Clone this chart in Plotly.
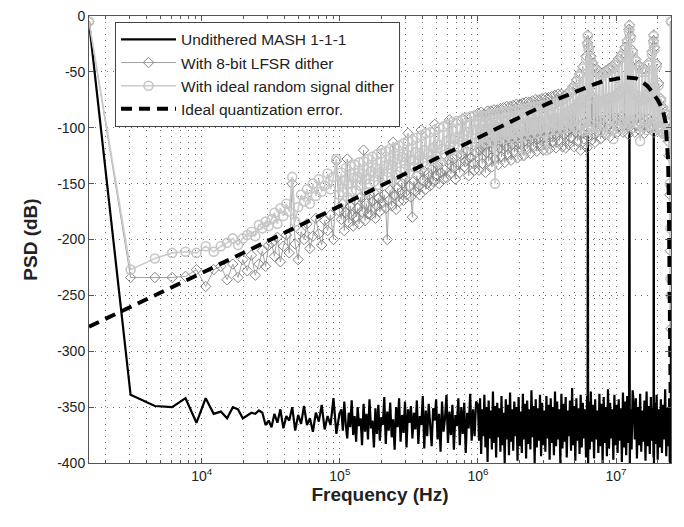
import plotly.graph_objects as go

# ---------------- data ----------------
# frequencies (Hz), in four segments
FREQ_LOW = [1526, 3052, 4578, 6104, 7629, 9155, 10681, 12207, 13733, 15259,
            16785, 18311, 19836, 21362, 22888, 24414, 25940, 27466, 28992, 30518]
FREQ_MID1 = [32000, 33600, 35300, 37100, 39000, 41000, 43000, 45200, 47500, 49900,
             52400, 55000, 57800, 60700, 63800, 67000, 70400, 73900, 77600, 81500,
             85600, 89900, 94400, 99200]
FREQ_MID2 = [
    1.025e5, 1.051e5, 1.077e5, 1.104e5, 1.131e5, 1.160e5, 1.189e5, 1.218e5, 1.249e5, 1.280e5,
    1.312e5, 1.345e5, 1.379e5, 1.413e5, 1.448e5, 1.485e5, 1.522e5, 1.560e5, 1.599e5, 1.639e5,
    1.680e5, 1.722e5, 1.765e5, 1.809e5, 1.854e5, 1.900e5, 1.948e5, 1.997e5, 2.046e5, 2.098e5,
    2.150e5, 2.204e5, 2.259e5, 2.315e5, 2.373e5, 2.433e5, 2.493e5, 2.556e5, 2.620e5, 2.685e5,
    2.752e5, 2.821e5, 2.892e5, 2.964e5, 3.038e5, 3.114e5, 3.192e5, 3.271e5, 3.353e5, 3.437e5,
    3.523e5, 3.611e5, 3.701e5, 3.794e5, 3.889e5, 3.986e5, 4.085e5, 4.188e5, 4.292e5, 4.400e5,
    4.510e5, 4.622e5, 4.738e5, 4.856e5, 4.978e5, 5.102e5, 5.230e5, 5.361e5, 5.495e5, 5.632e5,
    5.773e5, 5.917e5, 6.065e5, 6.217e5, 6.372e5, 6.532e5, 6.695e5, 6.862e5, 7.034e5, 7.210e5,
    7.390e5, 7.575e5, 7.764e5, 7.958e5, 8.157e5, 8.361e5, 8.570e5, 8.785e5, 9.004e5, 9.229e5,
    9.460e5, 9.697e5,
]
FREQ_HIGH = [
    1.000e6, 1.018e6, 1.036e6, 1.055e6, 1.074e6, 1.093e6, 1.113e6, 1.133e6, 1.153e6, 1.174e6,
    1.195e6, 1.217e6, 1.239e6, 1.261e6, 1.284e6, 1.307e6, 1.330e6, 1.354e6, 1.379e6, 1.403e6,
    1.429e6, 1.454e6, 1.481e6, 1.507e6, 1.534e6, 1.562e6, 1.590e6, 1.619e6, 1.648e6, 1.677e6,
    1.708e6, 1.738e6, 1.770e6, 1.801e6, 1.834e6, 1.867e6, 1.900e6, 1.935e6, 1.970e6, 2.005e6,
    2.041e6, 2.078e6, 2.115e6, 2.153e6, 2.192e6, 2.232e6, 2.272e6, 2.313e6, 2.354e6, 2.397e6,
    2.440e6, 2.484e6, 2.528e6, 2.574e6, 2.620e6, 2.667e6, 2.715e6, 2.764e6, 2.814e6, 2.865e6,
    2.916e6, 2.969e6, 3.022e6, 3.077e6, 3.132e6, 3.188e6, 3.246e6, 3.304e6, 3.364e6, 3.424e6,
    3.486e6, 3.549e6, 3.613e6, 3.678e6, 3.744e6, 3.811e6, 3.880e6, 3.950e6, 4.021e6, 4.093e6,
    4.167e6, 4.242e6, 4.318e6, 4.396e6, 4.475e6, 4.555e6, 4.637e6, 4.721e6, 4.806e6, 4.892e6,
    4.980e6, 5.070e6, 5.161e6, 5.254e6, 5.349e6, 5.445e6, 5.543e6, 5.643e6, 5.744e6, 5.848e6,
    5.953e6, 6.060e6, 6.169e6, 6.220e6, 6.250e6, 6.280e6, 6.340e6, 6.454e6, 6.570e6, 6.689e6,
    6.809e6, 6.932e6, 7.057e6, 7.184e6, 7.313e6, 7.445e6, 7.579e6, 7.715e6, 7.854e6, 7.995e6,
    8.139e6, 8.286e6, 8.435e6, 8.587e6, 8.741e6, 8.899e6, 9.059e6, 9.222e6, 9.388e6, 9.557e6,
    9.729e6, 9.904e6, 10.08e6, 10.26e6, 10.45e6, 10.64e6, 10.83e6, 11.02e6, 11.22e6, 11.42e6,
    11.63e6, 11.84e6, 12.05e6, 12.27e6, 12.42e6, 12.50e6, 12.58e6, 12.73e6, 12.96e6, 13.19e6,
    13.43e6, 13.67e6, 13.92e6, 14.17e6, 14.42e6, 14.68e6, 14.95e6, 15.22e6, 15.49e6, 15.77e6,
    16.05e6, 16.34e6, 16.64e6, 16.94e6, 17.24e6, 17.55e6, 17.87e6, 18.19e6, 18.52e6, 18.68e6,
    18.75e6, 18.82e6, 18.98e6, 19.32e6, 19.67e6, 20.02e6, 20.38e6, 20.75e6, 21.12e6, 21.50e6,
    21.89e6, 22.28e6, 22.68e6, 23.09e6, 23.51e6, 23.93e6, 24.25e6, 24.50e6, 24.70e6, 24.85e6,
    24.95e6, 25.00e6,
]

# Undithered MASH 1-1-1 (dB)
MASH_LOW = [-5, -339, -349, -350, -342, -364, -342, -356, -354, -360,
            -350, -352, -360, -357, -355, -356, -353, -355, -366, -362]
MASH_MID1 = [-368, -356, -364, -352, -369, -358, -362, -350, -371, -357,
             -365, -349, -366, -360, -372, -355, -363, -348, -370, -358,
             -366, -342, -374, -356]
MASH_MID2 = [
    -352, -371, -345, -366, -378, -355, -368, -344, -375, -358,
    -381, -350, -367, -360, -384, -347, -372, -356, -379, -343,
    -369, -362, -386, -351, -374, -348, -380, -359, -366, -341,
    -383, -354, -371, -346, -377, -361, -388, -350, -368, -342,
    -381, -357, -373, -345, -386, -352, -364, -349, -378, -355,
    -370, -344, -383, -358, -366, -340, -387, -353, -376, -347,
    -369, -385, -351, -362, -343, -379, -356, -390, -345, -372,
    -360, -339, -382, -354, -375, -348, -388, -357, -367, -342,
    -384, -350, -374, -346, -391, -355, -369, -338, -380, -352,
    -376, -345,
]
MASH_HIGH = [
    -348, -380, -342, -392, -352, -376, -339, -386, -350, -399,
    -344, -378, -353, -388, -336, -382, -349, -395, -346, -377,
    -351, -390, -340, -384, -355, -400, -343, -379, -348, -393,
    -337, -381, -352, -389, -345, -376, -350, -398, -341, -385,
    -354, -391, -338, -379, -347, -396, -344, -383, -352, -388,
    -335, -377, -349, -400, -343, -386, -351, -380, -339, -394,
    -346, -384, -353, -390, -340, -378, -348, -397, -342, -382,
    -350, -393, -336, -385, -345, -379, -352, -400, -338, -387,
    -347, -381, -341, -395, -353, -376, -344, -389, -333, -384,
    -349, -398, -342, -380, -351, -392, -339, -386, -346, -378,
    -352, -395, -340, -383, -18, -400, -345, -388, -336, -381,
    -348, -396, -343, -379, -353, -391, -338, -385, -347, -400,
    -341, -382, -350, -394, -334, -387, -346, -378, -352, -397,
    -339, -384, -348, -391, -343, -380, -351, -399, -337, -386,
    -345, -393, -340, -382, -349, -10, -400, -352, -388, -335,
    -347, -379, -342, -396, -350, -384, -338, -390, -353, -381,
    -344, -398, -336, -385, -349, -392, -341, -380, -351, -395,
    -18, -400, -346, -383, -339, -397, -352, -386, -343, -391,
    -348, -379, -334, -394, -350, -385, -342, -399, -347, -383,
    -352, -5,
]

# With 8-bit LFSR dither (dB)
LFSR_LOW = [-5, -234, -234, -234, -233, -227, -242, -227, -224, -236,
            -222, -234, -218, -228, -214, -232, -222, -210, -224, -205]
LFSR_MID1 = [-203, -215, -198, -220, -206, -196, -212, -150, -204, -218,
             -193, -200, -186, -208, -197, -181, -195, -205, -183, -192,
             -178, -200, -130, -175]
LFSR_MID2 = [
    -182, -168, -192, -176, -128, -185, -170, -178, -188, -165,
    -180, -172, -186, -162, -175, -120, -183, -168, -177, -160,
    -178, -166, -158, -181, -170, -163, -175, -120, -167, -160,
    -172, -200, -165, -156, -170, -113, -160, -173, -154, -166,
    -158, -150, -165, -146, -160, -105, -152, -162, -180, -148,
    -157, -143, -153, -160, -102, -147, -139, -155, -150, -141,
    -152, -137, -148, -97, -143, -134, -150, -140, -131, -146,
    -138, -145, -129, -93, -141, -127, -136, -146, -125, -133,
    -140, -124, -92, -135, -130, -121, -143, -127, -90, -132,
    -138, -122,
]
LFSR_HIGH = [
    -87, -138, -120, -86, -132, -116, -88, -140, -122, -85,
    -130, -114, -85, -135, -119, -84, -128, -112, -84, -133,
    -118, -83, -126, -113, -82, -131, -117, -81, -124, -110,
    -81, -129, -115, -80, -122, -109, -79, -127, -114, -79,
    -120, -108, -78, -125, -112, -77, -119, -107, -77, -123,
    -111, -76, -117, -106, -75, -121, -110, -75, -116, -104,
    -74, -120, -109, -73, -115, -103, -73, -119, -108, -72,
    -113, -102, -71, -118, -107, -70, -112, -101, -70, -117,
    -72, -106, -118, -70, -103, -115, -67, -109, -100, -63,
    -117, -104, -57, -112, -98, -52, -120, -105, -45, -110,
    -95, -36, -118, -24, -17, -108, -28, -99, -36, -111,
    -42, -96, -113, -47, -104, -94, -50, -110, -97, -51,
    -93, -106, -49, -100, -92, -47, -108, -95, -45, -102,
    -91, -42, -105, -93, -38, -99, -90, -34, -104, -92,
    -28, -97, -22, -106, -12, -8, -95, -18, -101, -31,
    -93, -104, -39, -98, -91, -44, -103, -96, -48, -92,
    -105, -48, -97, -92, -42, -101, -94, -32, -99, -22,
    -17, -104, -28, -95, -43, -100, -60, -93, -74, -105,
    -82, -98, -86, -107, -94, -112, -125, -160, -210, -250,
    -280, -5,
]

# With ideal random signal dither (dB)
RAND_LOW = [-5, -227, -217, -212, -211, -212, -206, -211, -206, -203,
            -199, -205, -199, -196, -193, -197, -187, -190, -184, -188]
RAND_MID1 = [-182, -176, -186, -172, -179, -168, -175, -144, -184, -171,
             -160, -166, -155, -168, -150, -161, -146, -157, -152, -141,
             -155, -144, -128, -160]
RAND_MID2 = [
    -140, -158, -147, -136, -162, -150, -134, -157, -145, -133,
    -156, -144, -131, -152, -141, -130, -158, -146, -128, -150,
    -139, -126, -148, -136, -124, -151, -140, -123, -146, -134,
    -121, -144, -133, -119, -147, -130, -118, -142, -128, -116,
    -139, -126, -114, -137, -124, -112, -141, -129, -111, -135,
    -122, -109, -136, -125, -107, -131, -120, -105, -134, -123,
    -104, -129, -118, -102, -126, -115, -100, -131, -119, -99,
    -124, -112, -97, -120, -110, -95, -125, -109, -94, -118,
    -108, -93, -119, -106, -91, -115, -104, -90, -117, -102,
    -89, -113,
]
RAND_HIGH = [
    -90, -111, -101, -89, -109, -98, -90, -113, -102, -89,
    -108, -97, -88, -112, -100, -88, -150, -99, -87, -110,
    -96, -87, -107, -101, -86, -110, -95, -86, -106, -99,
    -85, -109, -94, -85, -105, -98, -84, -108, -93, -84,
    -104, -125, -83, -107, -92, -83, -103, -96, -82, -106,
    -91, -82, -102, -95, -81, -105, -90, -81, -101, -94,
    -80, -104, -89, -80, -120, -93, -79, -103, -88, -79,
    -99, -92, -78, -102, -87, -77, -98, -91, -76, -101,
    -74, -97, -88, -72, -100, -85, -69, -96, -84, -65,
    -99, -82, -59, -101, -78, -54, -98, -75, -47, -103,
    -70, -38, -100, -26, -18, -102, -30, -97, -38, -72,
    -44, -104, -75, -49, -99, -76, -52, -103, -77, -53,
    -98, -75, -51, -105, -74, -49, -100, -73, -47, -110,
    -72, -44, -97, -70, -40, -101, -68, -36, -96, -65,
    -30, -99, -24, -95, -14, -9, -97, -20, -94, -33,
    -100, -70, -41, -96, -72, -46, -112, -75, -50, -99,
    -74, -50, -102, -70, -44, -98, -65, -34, -97, -24,
    -18, -100, -30, -96, -45, -101, -62, -99, -76, -103,
    -84, -105, -88, -104, -96, -108, -112, -150, -190, -235,
    -250, -5,
]

# Ideal quantization error (dB)
IDEAL_FREQ_HZ = [1526, 1.0e4, 1.0e5, 1.0e6, 2.0e6, 3.0e6, 4.0e6, 5.0e6, 6.0e6, 7.0e6,
                 8.0e6, 9.0e6, 1.0e7, 1.1e7, 1.2e7, 1.3e7, 1.4e7, 1.5e7, 1.6e7, 1.7e7,
                 1.8e7, 1.9e7, 2.0e7, 2.1e7, 2.2e7, 2.28e7, 2.34e7, 2.38e7, 2.41e7, 2.44e7,
                 2.47e7, 2.49e7, 2.5e7]
IDEAL_DB = [-278, -230, -170, -109, -90, -80, -73, -68, -64, -61,
            -58.5, -57, -56, -55.3, -55, -55, -55.8, -57.5, -60, -63,
            -67, -71, -75, -80, -86, -95, -110, -128, -160, -210,
            -280, -350, -420]

X_TICKS = [1e4, 1e5, 1e6, 1e7]
X_TICK_TEXT = ["10<sup>4</sup>", "10<sup>5</sup>", "10<sup>6</sup>", "10<sup>7</sup>"]
X_MINOR = [2e3, 3e3, 4e3, 5e3, 6e3, 7e3, 8e3, 9e3,
           2e4, 3e4, 4e4, 5e4, 6e4, 7e4, 8e4, 9e4,
           2e5, 3e5, 4e5, 5e5, 6e5, 7e5, 8e5, 9e5,
           2e6, 3e6, 4e6, 5e6, 6e6, 7e6, 8e6, 9e6,
           2e7]
Y_TICKS = [-400, -350, -300, -250, -200, -150, -100, -50, 0]
Y_TICK_TEXT = ["-400", "-350", "-300", "-250", "-200", "-150", "-100", "-50", "0"]

for seg_f, segs in [(FREQ_LOW, (MASH_LOW, LFSR_LOW, RAND_LOW)),
                    (FREQ_MID1, (MASH_MID1, LFSR_MID1, RAND_MID1)),
                    (FREQ_MID2, (MASH_MID2, LFSR_MID2, RAND_MID2)),
                    (FREQ_HIGH, (MASH_HIGH, LFSR_HIGH, RAND_HIGH))]:
    assert all(len(s) == len(seg_f) for s in segs), (len(seg_f), [len(s) for s in segs])
assert len(IDEAL_FREQ_HZ) == len(IDEAL_DB)

FREQ_HZ = FREQ_LOW + FREQ_MID1 + FREQ_MID2 + FREQ_HIGH
MASH_DB = MASH_LOW + MASH_MID1 + MASH_MID2 + MASH_HIGH
LFSR_DB = LFSR_LOW + LFSR_MID1 + LFSR_MID2 + LFSR_HIGH
RAND_DB = RAND_LOW + RAND_MID1 + RAND_MID2 + RAND_HIGH

# ---------------- figure ----------------
FONT = "Liberation Sans, Arial, sans-serif"
fig = go.Figure()

fig.add_trace(go.Scatter(
    x=FREQ_HZ, y=MASH_DB, mode="lines", name="Undithered MASH 1-1-1",
    line=dict(color="black", width=2.2)))

fig.add_trace(go.Scatter(
    x=FREQ_HZ, y=LFSR_DB, mode="lines+markers", name="With 8-bit LFSR dither",
    line=dict(color="#a3a3a3", width=1),
    marker=dict(symbol="diamond-open", size=8, color="#858585", line=dict(width=1))))

fig.add_trace(go.Scatter(
    x=FREQ_HZ, y=RAND_DB, mode="lines+markers", name="With ideal random signal dither",
    line=dict(color="#cbcbcb", width=1.6),
    marker=dict(symbol="circle-open", size=9, color="#c6c6c6", line=dict(width=1.6))))

fig.add_trace(go.Scatter(
    x=IDEAL_FREQ_HZ, y=IDEAL_DB, mode="lines", name="Ideal quantization error.",
    line=dict(color="black", width=4, dash="11px,7px")))

grid = dict(gridcolor="#6e6e6e", griddash="1px,5px", gridwidth=1)

fig.update_xaxes(
    type="log", range=[3.18352, 7.39794], automargin=False,
    tickvals=X_TICKS, ticktext=X_TICK_TEXT, ticklabeloverflow="allow",
    ticks="inside", ticklen=5, tickcolor="#555",
    showline=True, linecolor="#555", linewidth=1, mirror="allticks",
    showgrid=True, **grid,
    minor=dict(tickvals=X_MINOR, ticks="inside", ticklen=3, tickcolor="#555",
               showgrid=True, **grid),
    zeroline=False,
    tickfont=dict(family=FONT, size=14, color="#222"),
    title=dict(text="<b>Frequency (Hz)</b>", font=dict(family=FONT, size=19, color="#222"),
               standoff=3),
)
fig.update_yaxes(
    range=[-400, 0], automargin=False, tickvals=Y_TICKS, ticktext=Y_TICK_TEXT,
    ticklabeloverflow="allow",
    ticks="inside", ticklen=5, tickcolor="#555",
    showline=True, linecolor="#555", linewidth=1, mirror="allticks",
    showgrid=True, **grid, zeroline=False,
    tickfont=dict(family=FONT, size=14, color="#222"),
    title=dict(text="<b>PSD (dB)</b>", font=dict(family=FONT, size=19, color="#222"),
               standoff=14),
)

# the page adds an 8 px body margin, so the figure is sized/shifted to fit the window
fig.update_layout(
    width=676, height=519,
    margin=dict(l=81, r=13, t=8, b=64),
    paper_bgcolor="white", plot_bgcolor="white",
    showlegend=True,
    legend=dict(x=0.0447, y=0.987, xanchor="left", yanchor="top",
                bgcolor="white", bordercolor="#444", borderwidth=1,
                font=dict(family=FONT, size=15.5, color="#222"),
                itemwidth=55, tracegroupgap=0),
)

fig.write_html("out.html")
